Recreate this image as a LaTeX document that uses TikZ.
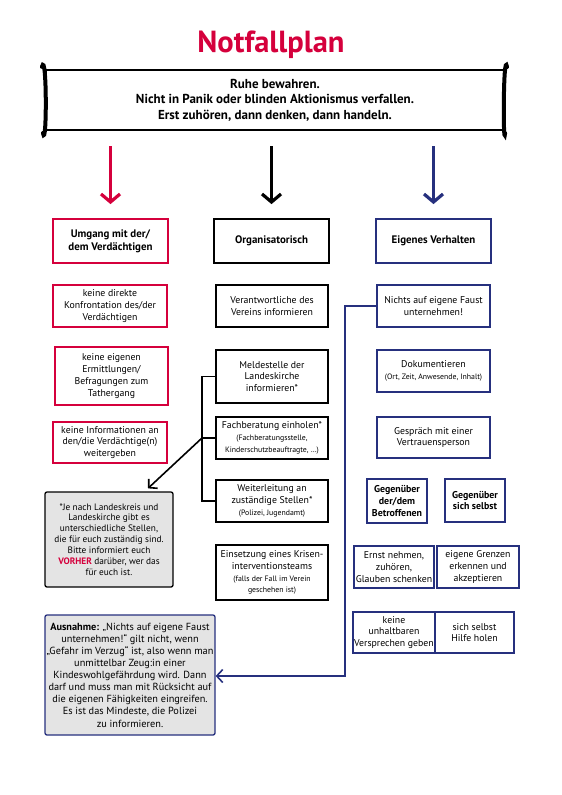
\documentclass[tikz,border=0pt]{standalone}
\usepackage{fontspec}
\setmainfont{PT Sans}
\usetikzlibrary{arrows.meta}
\definecolor{nred}{HTML}{D5003C}
\definecolor{nblue}{HTML}{26307E}
\definecolor{ngray}{HTML}{E4E4E4}
\newcommand\smf{\fontsize{7.8}{9.3}\selectfont}
\begin{document}
\begin{tikzpicture}[x=1pt,y=-1pt,
  box/.style={draw, line width=1.8pt, align=center, inner sep=1pt, font=\fontsize{9.8}{11.8}\selectfont},
  sz/.style 2 args={minimum width=#1pt, minimum height=#2pt},
  rbox/.style={box, draw=nred},
  kbox/.style={box, draw=black},
  ubox/.style={box, draw=nblue},
  hdr/.style={font=\fontsize{10.9}{13}\selectfont\bfseries},
  bigarr/.style={line width=3.2pt, -{Straight Barb[length=8pt,width=19pt]}, shorten <=15pt, shorten >=14pt},
  conn/.style={line width=1.6pt},
  note/.style={draw, fill=ngray, line width=1.3pt, rounded corners=2pt, align=center, inner sep=1pt, font=\fontsize{9.3}{10.9}\selectfont}
]
\useasboundingbox (0,0) rectangle (562,795);

% title
\node[text=nred, font=\fontsize{30.5}{33}\selectfont\bfseries] (title) at (271,45) {Notfallplan};

% top box
\node[draw, line width=2.2pt, sz={458}{60}, align=center, font=\fontsize{13}{15.5}\selectfont\bfseries] (top) at (275,100)
 {Ruhe bewahren.\\Nicht in Panik oder blinden Aktionismus verfallen.\\Erst zuhören, dann denken, dann handeln.};
\draw[line width=4pt, line cap=round] ([xshift=-3pt,yshift=2pt]top.north west) .. controls ([xshift=2pt,yshift=20pt]top.north west) and ([xshift=2pt,yshift=-20pt]top.south west) .. ([xshift=-2pt,yshift=-2pt]top.south west);
\draw[line width=4pt, line cap=round] ([xshift=2pt,yshift=2pt]top.north east) .. controls ([xshift=-2pt,yshift=20pt]top.north east) and ([xshift=-2pt,yshift=-20pt]top.south east) .. ([xshift=0pt,yshift=-2pt]top.south east);

% headers
\node[rbox, hdr, sz={115}{44}] (r0) at (110.5,241) {Umgang mit der/\\dem Verdächtigen};
\node[kbox, hdr, sz={115}{44}] (b0) at (271.5,241) {Organisatorisch};
\node[ubox, hdr, sz={115}{44}] (u0) at (433.5,241) {Eigenes Verhalten};

\draw[bigarr, nred] (top.south -| r0) -- (r0.north);
\draw[bigarr, black] (top.south -| b0) -- (b0.north);
\draw[bigarr, nblue] (top.south -| u0) -- (u0.north);

% red column
\node[rbox, sz={114}{42}] (r1) at (110,306) {keine direkte\\Konfrontation des/der\\Verdächtigen};
\node[rbox, sz={113}{58}] (r2) at (111.5,376) {keine eigenen\\Ermittlungen/\\Befragungen zum\\Tathergang};
\node[rbox, sz={114}{41}] (r3) at (110,442.5) {keine Informationen an\\den/die Verdächtige(n)\\weitergeben};

% black column
\node[kbox, sz={112}{42}] (b1) at (272,306) {Verantwortliche des\\Vereins informieren};
\node[kbox, sz={112}{53}] (b2) at (272,376.5) {Meldestelle der\\Landeskirche\\informieren*};
\node[kbox, sz={112}{42}] (b3) at (272,438) {Fachberatung einholen*\\{\smf (Fachberatungsstelle,}\\{\smf Kinderschutzbeauftragte, …)}};
\node[kbox, sz={112}{42}] (b4) at (272,501) {Weiterleitung an\\zuständige Stellen*\\{\smf (Polizei, Jugendamt)}};
\node[kbox, sz={112}{55}] (b5) at (272,572.5) {Einsetzung eines Krisen-\\interventionsteams\\{\smf (falls der Fall im Verein}\\{\smf geschehen ist)}};

\coordinate (bx) at (202,0);
\draw[conn] (b2.west) -- (b2.west -| bx) -- (b4.west -| bx) -- (b4.west);
\draw[conn] (b3.west) -- (b3.west -| bx);

% note 1
\node[note, sz={128}{95}] (n1) at (109,539.5) {*Je nach Landeskreis und\\Landeskirche gibt es\\unterschiedliche Stellen,\\die für euch zuständig sind.\\Bitte informiert euch\\{\color{nred}\bfseries VORHER} darüber, wer das\\für euch ist.};
\draw[conn, -{Straight Barb[length=6pt,width=13pt]}] (b3.west -| bx) -- ([xshift=39pt,yshift=3pt]n1.north);

% blue column
\node[ubox, sz={113}{42}] (u1) at (433.5,306) {Nichts auf eigene Faust\\unternehmen!};
\node[ubox, sz={113}{42}] (u2) at (433.5,371) {Dokumentieren\\{\smf (Ort, Zeit, Anwesende, Inhalt)}};
\node[ubox, sz={113}{41}] (u3) at (433.5,437.5) {Gespräch mit einer\\Vertrauensperson};
\node[ubox, line width=2.5pt, font=\fontsize{9.9}{11.8}\selectfont\bfseries, sz={60}{44}] (u4) at (397,501) {Gegenüber\\der/dem\\Betroffenen};
\node[ubox, line width=2.5pt, font=\fontsize{9.9}{11.8}\selectfont\bfseries, sz={60}{43}] (u5) at (475,500.5) {Gegenüber\\sich selbst};
\node[ubox, sz={80}{42}] (u6) at (394,567) {Ernst nehmen,\\zuhören,\\Glauben schenken};
\node[ubox, sz={82}{42}] (u7) at (478,567) {eigene Grenzen\\erkennen und\\akzeptieren};
\node[ubox, sz={78}{41}] (u8) at (394,632.5) {keine\\unhaltbaren\\Versprechen geben};
\node[ubox, sz={79}{41}] (u9) at (474.5,632.5) {sich selbst\\Hilfe holen};

% note 2
\node[note, draw=nblue, sz={170}{120}, font=\fontsize{10.3}{12.1}\selectfont] (n2) at (130,675) {\textbf{Ausnahme:} „Nichts auf eigene Faust\\unternehmen!“ gilt nicht, wenn\\„Gefahr im Verzug“ ist, also wenn man\\unmittelbar Zeug:in einer\\Kindeswohlgefährdung wird. Dann\\darf und muss man mit Rücksicht auf\\die eigenen Fähigkeiten eingreifen.\\Es ist das Mindeste, die Polizei\\zu informieren.};

\coordinate (ux) at (345,676);
\draw[conn, nblue, -{Straight Barb[length=6pt,width=13pt]}] (u1.west) -| (ux) -- (n2.east |- ux);
\end{tikzpicture}
\end{document}
